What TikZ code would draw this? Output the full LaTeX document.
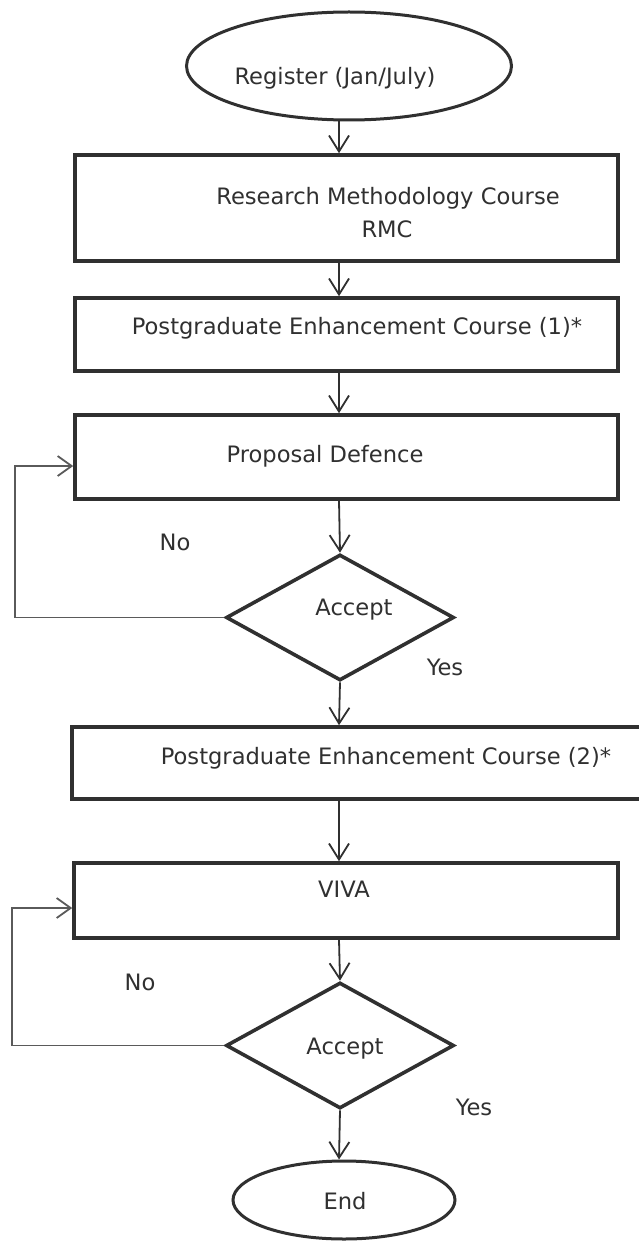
\documentclass[tikz,border=0pt]{standalone}
\usepackage{fontspec}
\setmainfont{DejaVu Sans}
\usetikzlibrary{shapes.geometric,arrows.meta}
\definecolor{ink}{HTML}{303030}
\definecolor{thinink}{HTML}{5A5A5A}
\begin{document}
\begin{tikzpicture}[x=0.5pt,y=-0.5pt,
  box/.style={draw=ink, line width=1.8pt, rectangle, inner sep=0pt},
  oval/.style={draw=ink, line width=1.5pt, ellipse, inner sep=0pt},
  decision/.style={draw=ink, line width=1.8pt, diamond, inner sep=0pt, minimum width=114pt, minimum height=63pt},
  txt/.style={text=ink, font=\fontsize{11.3pt}{16pt}\selectfont, inner sep=0pt, anchor=base},
  arr/.style={draw=ink, line width=0.9pt, -{Straight Barb[length=8pt,width=10pt,line width=0.9pt]}},
  backarr/.style={draw=thinink, line width=0.7pt, -{Straight Barb[length=7pt,width=10pt,line width=0.9pt]}}]
\useasboundingbox (0,0) rectangle (638,1241);
\fill[white] (0,0) rectangle (638,1241);

% shapes
\node[oval, minimum width=162.5pt, minimum height=54pt] (reg) at (349,66) {};
\node[box, minimum width=271.5pt, minimum height=53pt] (rmc) at (346.5,208) {};
\node[box, minimum width=271.5pt, minimum height=36.5pt] (pec1) at (346.5,334.5) {};
\node[box, minimum width=271.5pt, minimum height=42pt] (pd) at (346.5,457) {};
\node[decision] (d1) at (340,617.5) {};
\node[box, minimum width=288pt, minimum height=36pt] (pec2) at (360,763) {};
\node[box, minimum width=272pt, minimum height=37.5pt] (viva) at (346,900.5) {};
\node[decision] (d2) at (340,1045.5) {};
\node[oval, minimum width=111pt, minimum height=39pt] (end) at (344,1200) {};

% texts
\node[txt] (regt) at (335,85) {Register (Jan/July)};
\node[txt] (rmct1) at (388,205) {Research Methodology Course};
\node[txt] (rmct2) at (387,237) {RMC};
\node[txt] (pec1t) at (357,334) {Postgraduate Enhancement Course (1)*};
\node[txt] (pdt) at (325,462) {Proposal Defence};
\node[txt] (d1t) at (354,615) {Accept};
\node[txt] (no1) at (175,550) {No};
\node[txt] (yes1) at (445,675) {Yes};
\node[txt] (pec2t) at (386,764) {Postgraduate Enhancement Course (2)*};
\node[txt] (vivat) at (344,897) {VIVA};
\node[txt] (d2t) at (345,1054) {Accept};
\node[txt] (no2) at (140,990) {No};
\node[txt] (yes2) at (474,1115) {Yes};
\node[txt] (endt) at (345,1209) {End};

% connectors
\coordinate (colx) at (339,0);
\draw[arr] (reg.south -| colx) -- (rmc.north -| colx);
\draw[arr] (rmc.south -| colx) -- (pec1.north -| colx);
\draw[arr] (pec1.south -| colx) -- (pd.north -| colx);
\draw[arr] (pd.south -| colx) -- (d1.north);
\draw[arr] (d1.south) -- (pec2.north -| colx);
\draw[arr] (pec2.south -| colx) -- (viva.north -| colx);
\draw[arr] (viva.south -| colx) -- (d2.north);
\draw[arr] (d2.south) -- (end.north -| colx);

\coordinate (k1) at (15,466);
\draw[backarr] (d1.west) -| (k1) -- (k1 -| pd.west);
\coordinate (k2) at (12,908);
\draw[backarr] (d2.west) -| (k2) -- (k2 -| viva.west);
\end{tikzpicture}
\end{document}
